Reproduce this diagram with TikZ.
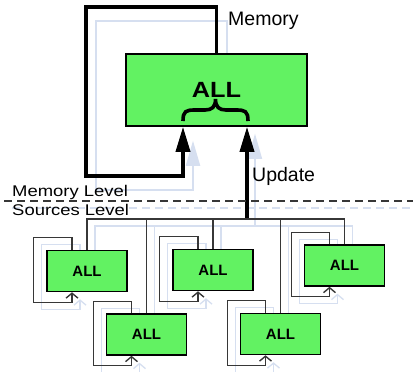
\documentclass[tikz,border=0pt]{standalone}
\usepackage{fontspec}
\setmainfont{Liberation Sans}
\usetikzlibrary{arrows.meta}
\pgfdeclarelayer{background}
\pgfsetlayers{background,main}
\definecolor{boxgreen}{RGB}{98,242,98}
\definecolor{ghost}{RGB}{214,223,240}
\definecolor{wire}{RGB}{55,55,55}
\tikzset{
  allbox/.style={draw=black, line width=1.5pt, fill=boxgreen, inner sep=0pt},
  srcbox/.style={allbox, minimum width=80pt, minimum height=41pt,
    font=\bfseries\fontsize{15}{15}\selectfont},
  heavy/.style={line width=3.5pt, black},
  bigtip/.style={-{Triangle[length=25pt,width=14pt]}},
  wireline/.style={line width=1.4pt, wire},
  looptip/.style={-{Straight Barb[length=5pt,width=12pt]}},
  ghostline/.style={line width=1.3pt, ghost},
  levelfont/.style={font=\fontsize{15.5}{15.5}\selectfont},
  bigfont/.style={font=\fontsize{19.5}{19.5}\selectfont},
  txt/.style={inner sep=0pt, anchor=base west},
}
\begin{document}
\begin{tikzpicture}[x=1pt,y=-1pt]
\useasboundingbox (0,0) rectangle (413,372);

% memory-level box with its brace
\node[allbox, minimum width=181pt, minimum height=72pt,
  font=\bfseries\fontsize{22}{22}\selectfont] (mem) at (216.5,90) {\scalebox{1.15}[1]{ALL}};
\draw[line width=3.6pt] (183,121) .. controls (183,111) and (186,110) .. (195,110)
  -- (205,110) .. controls (212,110) and (215.5,107) .. (215.5,99)
  .. controls (215.5,107) and (219,110) .. (226,110) -- (236,110)
  .. controls (245,110) and (248,111) .. (248,121);

% source-level boxes
\node[srcbox] (b1) at (87,271) {ALL};
\node[srcbox] (b2) at (146.5,334.5) {ALL};
\node[srcbox] (b3) at (213,270) {ALL};
\node[srcbox] (b4) at (280.5,334) {ALL};
\node[srcbox] (b5) at (344.5,265.5) {ALL};

% labels
\node[txt, bigfont] (memlbl) at (228,25) {Memory};
\node[txt, bigfont] (updlbl) at (252,181.5) {Update};
\node[txt, levelfont] (mlvl) at (12,196) {\scalebox{1.19}[1]{Memory Level}};
\node[txt, levelfont] (slvl) at (12,215) {\scalebox{1.19}[1]{Sources Level}};

% routing points
\coordinate (hub) at (247,219);
\coordinate (lp) at (183,176);
\coordinate (memin) at (lp |- mem.south);
\coordinate (updin) at (hub |- mem.south);
\coordinate (dl) at (4,201);
\coordinate (dr) at (413,201);

\begin{pgfonlayer}{background}
  \fill[white] (0,0) rectangle (413,372);

  % faint offset copies of the wiring
  \begin{scope}[transform canvas={shift={(8pt,-7pt)}}]
    \draw[ghostline] (b1.north) -- (b1.north |- hub) -- (b5.north |- hub) -- (b5.north);
    \foreach \b in {b2,b3,b4} \draw[ghostline] (\b.north) -- (\b.north |- hub);
    \foreach \b in {b1,b2,b3,b4,b5}
      \draw[ghostline, looptip] ([xshift=-15pt]\b.north)
        |- ([xshift=-12.5pt,yshift=12pt]\b.north west)
        |- ([xshift=-15pt,yshift=-10pt]\b.south) -- ([xshift=-15pt]\b.south);
    \draw[ghostline, bigtip] (hub) -- (updin);
    \draw[ghostline, dash pattern=on 8pt off 5pt] (dl) -- (dr);
  \end{scope}
  \begin{scope}[transform canvas={shift={(10pt,-14pt)}}]
    \draw[ghostline, line width=2pt, bigtip] (mem.north) |- (86,7) |- (lp) -- (memin);
  \end{scope}

  % memory feedback and update
  \draw[heavy, bigtip] (mem.north) |- (86,7) |- (lp) -- (memin);
  \draw[heavy, bigtip] (hub) -- (updin);

  % source bus
  \draw[wireline] (b1.north) -- (b1.north |- hub) -- (b5.north |- hub) -- (b5.north);
  \foreach \b in {b2,b3,b4} \draw[wireline] (\b.north) -- (\b.north |- hub);

  % self loops on each source
  \foreach \b in {b1,b2,b3,b4,b5}
    \draw[wireline, looptip] ([xshift=-15pt]\b.north)
      |- ([xshift=-12.5pt,yshift=12pt]\b.north west)
      |- ([xshift=-15pt,yshift=-10pt]\b.south) -- ([xshift=-15pt]\b.south);

  % level separator
  \draw[wireline, dash pattern=on 8pt off 5pt] (dl) -- (dr);
\end{pgfonlayer}
\end{tikzpicture}
\end{document}
